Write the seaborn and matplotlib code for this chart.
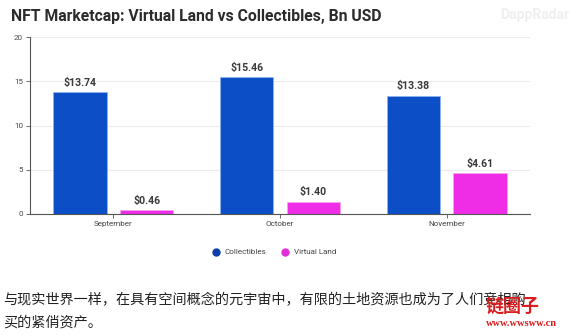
import matplotlib
matplotlib.use("Agg")
import matplotlib.pyplot as plt
from matplotlib.lines import Line2D
import pandas as pd
import seaborn as sns

months = ["September", "October", "November"]
collectibles = [13.74, 15.46, 13.38]
virtual_land = [0.46, 1.40, 4.61]
series_names = ["Collectibles", "Virtual Land"]
series_colors = ["#0B4EC6", "#F02DE6"]
y_ticks = [0, 5, 10, 15, 20]

title = "NFT Marketcap: Virtual Land vs Collectibles, Bn USD"
caption_lines = [
    "与现实世界一样，在具有空间概念的元宇宙中，有限的土地资源也成为了人们竞相购",
    "买的紧俏资产。",
]

df = pd.DataFrame({
    "month": months * 2,
    "value": collectibles + virtual_land,
    "series": [series_names[0]] * 3 + [series_names[1]] * 3,
})

sns.set_theme(style="white")
plt.rcParams["font.family"] = ["Roboto", "DejaVu Sans"]

W, H = 574, 335
fig = plt.figure(figsize=(W / 100, H / 100), dpi=100)
ax = fig.add_axes([30 / W, (H - 214) / H, 500 / W, 177 / H])

sns.barplot(
    data=df, x="month", y="value", hue="series", order=months,
    hue_order=series_names, palette=series_colors, saturation=1,
    width=0.8, gap=0.2, edgecolor="#8fb4ee", linewidth=0.6, legend=False, ax=ax,
)
for bar in ax.containers[1]:
    bar.set_edgecolor("#f6a3f0")

for container in ax.containers:
    ax.bar_label(container, labels=[f"${v:.2f}" for v in container.datavalues],
                 padding=3, fontsize=7.6, fontweight="bold", color="#3a3a3a")

ax.set_ylim(0, 20)
ax.set_yticks(y_ticks)
ax.set_xlim(-0.5, 2.5)
ax.set_xlabel("")
ax.set_ylabel("")
ax.yaxis.grid(True, color="#ececec", linewidth=0.8)
ax.set_axisbelow(True)
for side in ["top", "right"]:
    ax.spines[side].set_visible(False)
for side in ["left", "bottom"]:
    ax.spines[side].set_color("#555555")
    ax.spines[side].set_linewidth(0.8)
ax.tick_params(axis="both", which="both", length=3, width=0.6, color="#555555",
               labelsize=5.8, labelcolor="#444444", pad=2)
ax.tick_params(axis="y", left=True)
ax.tick_params(axis="x", bottom=True)

handles = [Line2D([0], [0], marker="o", linestyle="", markersize=5,
                  markerfacecolor=c, markeredgecolor=c) for c in ["#0B3FA8", "#E12FD8"]]
fig.legend(handles, series_names, loc="center", bbox_to_anchor=(272 / W, 1 - 252 / H),
           ncol=2, frameon=False, fontsize=5.8, handletextpad=0.1, columnspacing=1.4,
           labelcolor="#444444")

fig.text(11 / W, 1 - 16 / H, title, fontsize=11.3, fontweight="bold",
         color="#2b2b2b", va="center", ha="left")
fig.text(500 / W, 1 - 15 / H, "DappRadar", fontsize=10, fontweight="bold",
         color="#efefef", va="center", ha="left")

cjk = ["Noto Sans CJK SC", "DejaVu Sans"]
fig.text(3 / W, 1 - 300 / H, caption_lines[0], fontsize=10.2, family=cjk,
         color="#222222", va="center", ha="left")
fig.text(3 / W, 1 - 323 / H, caption_lines[1], fontsize=10.2, family=cjk,
         color="#222222", va="center", ha="left")

fig.text(513 / W, 1 - 306 / H, "链圈子", fontsize=13, fontweight="bold", family=cjk,
         color="#d81e1e", va="center", ha="center")
fig.text(521 / W, 1 - 324 / H, "www.wwsww.cn", fontsize=7.5, fontweight="bold",
         family=["Liberation Serif", "DejaVu Serif"], color="#d81e1e",
         va="center", ha="center")

fig.savefig("out.png", dpi=100)
